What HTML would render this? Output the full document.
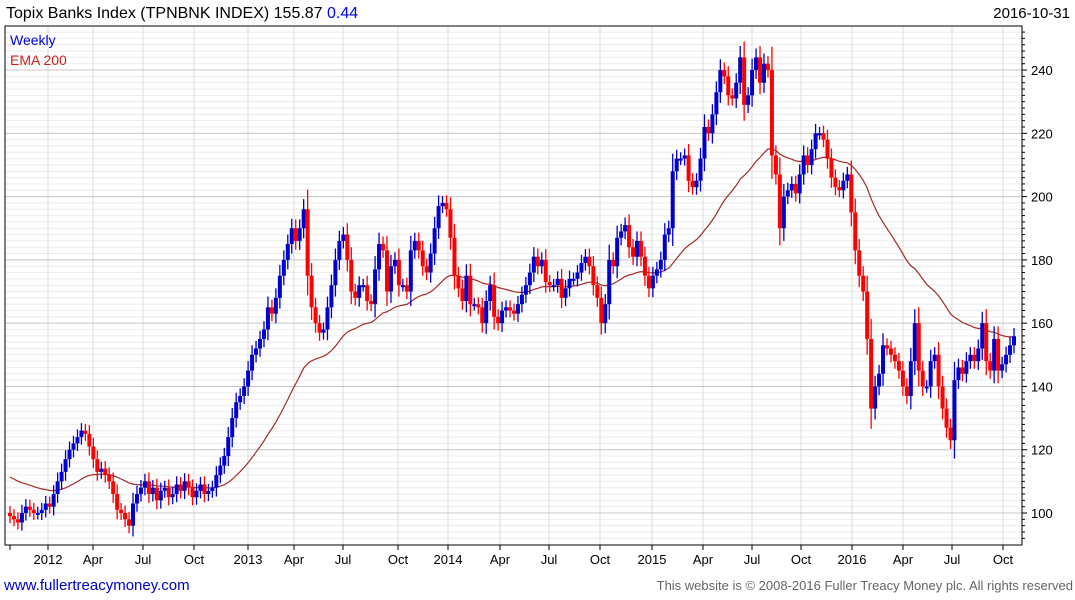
<!DOCTYPE html>
<html><head><meta charset="utf-8"><style>
body{margin:0;background:#fff;font-family:"Liberation Sans",sans-serif;}
svg{display:block}
</style></head><body>
<svg id="c" width="1075" height="600">
<text x="6" y="18" font-size="16" fill="#000">Topix Banks Index (TPNBNK INDEX) 155.87 <tspan fill="#0000ff">0.44</tspan></text>
<text x="1070" y="18" font-size="15" text-anchor="end" fill="#000">2016-10-31</text>
<g id="grid"></g>
<g id="ema"></g>
<g id="candles"></g>
<rect x="5" y="26" width="1017" height="519" fill="none" stroke="#000" stroke-width="1"/>
<text x="10" y="45" font-size="14" fill="#0000dd">Weekly</text>
<text x="10" y="65" font-size="14" fill="#cc2222">EMA 200</text>
<g id="axes"></g>
<text x="4" y="590" font-size="15" fill="#0000cc">www.fullertreacymoney.com</text>
<text x="1073" y="590" font-size="13" text-anchor="end" fill="#666">This website is © 2008-2016 Fuller Treacy Money plc. All rights reserved</text>
</svg>
<script>
const closes=[99,98,97,100,102,101,100,100,101,103,
102,106,110,113,117,120,122,124,126,125,
121,117,113,114,112,110,106,101,100,98,
96,103,106,108,110,106,108,104,107,
108,105,106,109,107,110,108,105,107,109,106,107,108,
112,115,118,124,130,135,137,140,
145,150,152,155,158,165,163,168,175,180,
185,190,186,190,196,175,165,160,157,
158,165,172,180,186,188,180,170,168,172,172,167,166,177,185,183,170,178,180,172,172,170,183,186,183,178,176,182,190,197,198,196,187,175,171,167,175,166,166,165,160,167,172,162,160,164,165,164,163,166,169,172,176,181,178,180,173,172,172,174,168,171,174,174,176,179,181,178,172,168,160,166,180,178,187,189,191,184,181,186,181,175,171,175,177,180,188,
190,208,212,212,213,205,203,205,212,222,220,226,233,240,238,232,231,236,244,229,232,240,244,236,242,240,213,207,190,200,202,204,201,207,213,210,215,220,220,218,212,206,203,202,205,207,195,183,175,170,155,133,140,144,153,152,150,148,145,140,137,148,160,145,140,140,148,150,140,133,127,123,142,146,144,148,150,148,152,160,148,145,155,145,147,150,153,155.87];
const yTicks=[100,120,140,160,180,200,220,240];
const xLabels=["2012","Apr","Jul","Oct","2013","Apr","Jul","Oct","2014","Apr","Jul","Oct","2015","Apr","Jul","Oct","2016","Apr","Jul","Oct"];
const xLabelPos=[48,93,143,194,248,294,343,398,448,500,549,600,652,703,752,801,852,903,952,1003];
const emaSeed=112;
const NS="http://www.w3.org/2000/svg";
const X0=10,X1=1014,N=closes.length;
const xs=i=>X0+i*(X1-X0)/(N-1);
const ys=v=>513-(v-100)*3.164;
function mk(t,a,p){const e=document.createElementNS(NS,t);for(const k in a)e.setAttribute(k,a[k]);p.appendChild(e);return e;}
const grid=document.getElementById('grid'),axes=document.getElementById('axes');
for(let v=92;v<=254;v+=2){if(v%20===0)continue;const y=ys(v);if(y<27||y>544)continue;
const l=mk('line',{x1:5,x2:1022,y1:y,y2:y,stroke:'#ebebeb'},grid);


const t=mk('line',{x1:1022,x2:1025,y1:y,y2:y,stroke:'#000'},axes);

}
xLabelPos.forEach((xx,i)=>{
const l=mk('line',{x1:xx,x2:xx,y1:26,y2:545,stroke:'#dddddd'},grid);


const t=mk('line',{x1:xx,x2:xx,y1:545,y2:550,stroke:'#000'},axes);


const tx=mk('text',{x:xx,y:564,'font-size':13,'text-anchor':'middle',fill:'#000'},axes);
tx.textContent=xLabels[i];

});
const t0=mk('line',{x1:10,x2:10,y1:545,y2:550,stroke:'#000'},axes);


yTicks.forEach(v=>{const y=ys(v);
const l=mk('line',{x1:5,x2:1022,y1:y,y2:y,stroke:'#c4c4c4'},grid);


const t=mk('line',{x1:1022,x2:1027,y1:y,y2:y,stroke:'#000'},axes);


const tx=mk('text',{x:1031,y:y+5,'font-size':13,fill:'#000'},axes);
tx.textContent=v;

});
let e=emaSeed,pts=[];const a=2/41;
closes.forEach((c,i)=>{e=e+a*(c-e);pts.push(xs(i).toFixed(1)+','+ys(e).toFixed(1));});
const pl=mk('polyline',{points:pts.join(' '),fill:'none',stroke:'#a52a2a','stroke-width':1.2},document.getElementById('ema'));


const cg=document.getElementById('candles');
closes.forEach((c,i)=>{const o=i?closes[i-1]:c+1;const up=c>=o;const col=up?'#0000cc':'#ff0000';
const hi=Math.max(o,c)+2+0.2*Math.abs(c-o),lo=Math.min(o,c)-2-0.2*Math.abs(c-o);const x=xs(i);
const w=mk('line',{x1:x,x2:x,y1:ys(hi),y2:ys(lo),stroke:col,'stroke-width':1.3},cg);


const top=ys(Math.max(o,c)),h=Math.max(2,ys(Math.min(o,c))-top);
const b=mk('rect',{x:x-2,y:top,width:4,height:h,fill:col},cg);

});
</script>
</body></html>
